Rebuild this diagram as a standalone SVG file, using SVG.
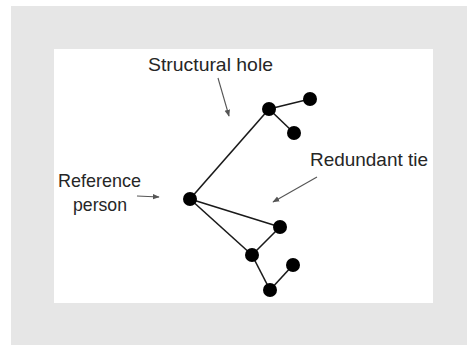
<svg xmlns="http://www.w3.org/2000/svg" width="467" height="345" viewBox="0 0 467 345">
<defs>
<style>
.lbl{font-family:"Liberation Sans",Arial,sans-serif;font-size:19px;fill:#262626}
.edge{stroke:#1a1a1a;stroke-width:1.6;fill:none}
.arr{stroke:#555;stroke-width:1.1;fill:none;marker-end:url(#ah)}
.node{fill:#000}
</style>
<marker id="ah" viewBox="0 0 10 10" refX="9" refY="5" markerWidth="7" markerHeight="7" orient="auto" markerUnits="userSpaceOnUse">
<path d="M0,1 L10,5 L0,9 z" fill="#555"/>
</marker>
</defs>
<rect x="0" y="0" width="467" height="345" fill="#ffffff"/>
<rect x="11" y="6" width="456" height="339" fill="#e6e6e6"/>
<rect x="54" y="49" width="379" height="254" fill="#ffffff"/>
<g id="connectors">
<line class="edge" x1="190" y1="199" x2="269" y2="109"/>
<line class="edge" x1="269" y1="109" x2="310" y2="99"/>
<line class="edge" x1="269" y1="109" x2="294" y2="133"/>
<line class="edge" x1="190" y1="199" x2="280" y2="227"/>
<line class="edge" x1="190" y1="199" x2="252" y2="255"/>
<line class="edge" x1="280" y1="227" x2="252" y2="255"/>
<line class="edge" x1="252" y1="255" x2="270" y2="290"/>
<line class="edge" x1="270" y1="290" x2="293" y2="265"/>
<line class="arr" x1="218" y1="78" x2="229" y2="116"/>
<line class="arr" x1="137" y1="196" x2="159" y2="197"/>
<line class="arr" x1="317" y1="177" x2="273" y2="202"/>
</g>
<g id="n-ref"><circle class="node" cx="190" cy="199" r="7"/></g>
<g id="n-hub"><circle class="node" cx="269" cy="109" r="7"/></g>
<g id="n-topright"><circle class="node" cx="310" cy="99" r="7"/></g>
<g id="n-toplower"><circle class="node" cx="294" cy="133" r="7"/></g>
<g id="n-midright"><circle class="node" cx="280" cy="227" r="7"/></g>
<g id="n-lower"><circle class="node" cx="252" cy="255" r="7"/></g>
<g id="n-bottom"><circle class="node" cx="270" cy="290" r="7"/></g>
<g id="n-bottomright"><circle class="node" cx="293" cy="265" r="7"/></g>
<g id="labels">
<text class="lbl" x="148" y="71" textLength="125" lengthAdjust="spacingAndGlyphs">Structural hole</text>
<text class="lbl" x="310" y="166" textLength="118" lengthAdjust="spacingAndGlyphs">Redundant tie</text>
<text class="lbl" x="58" y="187" textLength="83" lengthAdjust="spacingAndGlyphs">Reference</text>
<text class="lbl" x="73" y="211" textLength="54" lengthAdjust="spacingAndGlyphs">person</text>
</g>
</svg>
